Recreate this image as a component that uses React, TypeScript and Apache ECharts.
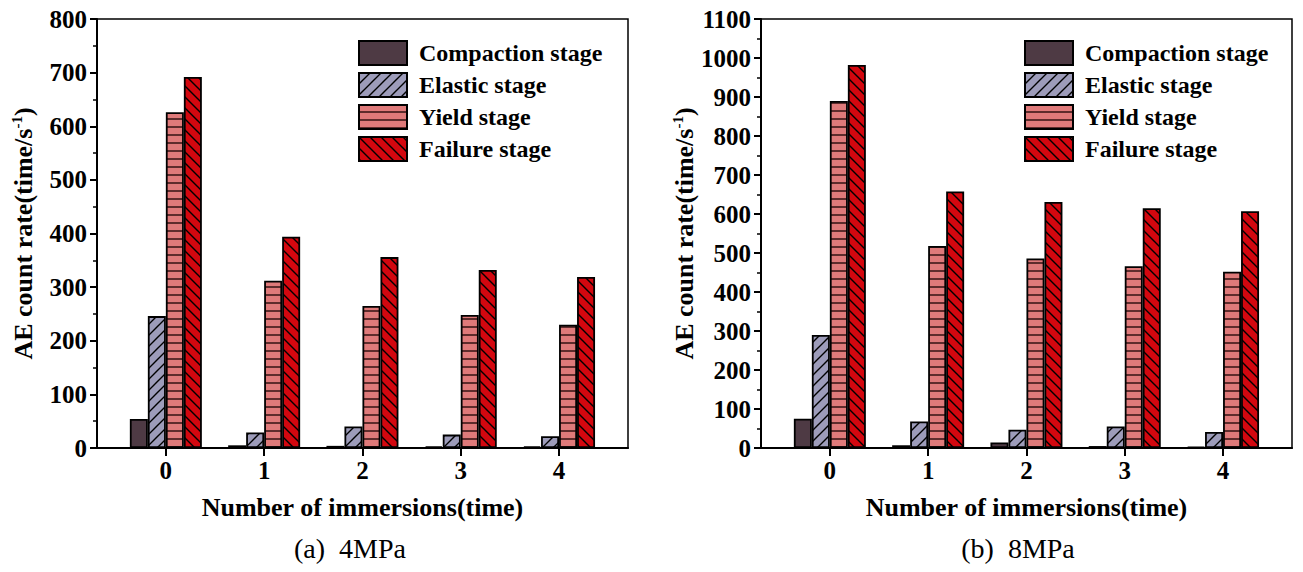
import React, { useEffect, useRef } from "react";
import * as echarts from "echarts";

const categories = ["0", "1", "2", "3", "4"];
const stageNames = ["Compaction stage", "Elastic stage", "Yield stage", "Failure stage"];

// 4 MPa panel
const compaction4 = [54, 5, 4, 3, 3];
const elastic4 = [246, 29, 40, 25, 22];
const yield4 = [626, 312, 265, 248, 230];
const failure4 = [692, 394, 356, 332, 319];

// 8 MPa panel
const compaction8 = [75, 7, 14, 5, 3];
const elastic8 = [290, 68, 47, 55, 41];
const yield8 = [890, 518, 486, 466, 452];
const failure8 = [982, 658, 631, 615, 607];

const FONT = "'Liberation Serif', 'Times New Roman', serif";

function makePattern(kind: string): any {
  const P = kind === "h" ? 8 : 11;
  const c = document.createElement("canvas");
  c.width = P;
  c.height = P;
  const ctx = c.getContext("2d")!;
  if (kind === "h") {
    ctx.fillStyle = "#df7a7a";
    ctx.fillRect(0, 0, P, P);
    ctx.fillStyle = "#5e2c2c";
    ctx.fillRect(0, P - 2, P, 2);
  } else {
    ctx.fillStyle = kind === "f" ? "#d3070f" : "#9d9cba";
    ctx.fillRect(0, 0, P, P);
    ctx.strokeStyle = "#000";
    ctx.lineWidth = 1.4;
    ctx.beginPath();
    if (kind === "f") {
      ctx.moveTo(-2, -2); ctx.lineTo(P + 2, P + 2);
      ctx.moveTo(-2 - P, -2); ctx.lineTo(2, P + 2);
      ctx.moveTo(P - 2, -2); ctx.lineTo(2 * P + 2, P + 2);
    } else {
      ctx.moveTo(-2, P + 2); ctx.lineTo(P + 2, -2);
      ctx.moveTo(-2 - P, P + 2); ctx.lineTo(2, -2);
      ctx.moveTo(P - 2, P + 2); ctx.lineTo(2 * P + 2, -2);
    }
    ctx.stroke();
  }
  return { image: c, repeat: "repeat" };
}

export default function App() {
  const ref = useRef<HTMLDivElement>(null);
  useEffect(() => {
    if (!ref.current) return;
    const chart = echarts.init(ref.current, null, { renderer: "svg" });
    const fills = ["#4e3a44", makePattern("e"), makePattern("h"), makePattern("f")];

    const panels = [
      { left: 97, barLeft: 116.7, max: 800, data: [compaction4, elastic4, yield4, failure4], legendLeft: 358 },
      { left: 761, barLeft: 780.7, max: 1100, data: [compaction8, elastic8, yield8, failure8], legendLeft: 1024 },
    ];
    const top = 19;
    const height = 429;
    const frameWidth = 531;
    const barWidthArea = 491.5;

    const grid: any[] = [];
    const xAxis: any[] = [];
    const yAxis: any[] = [];
    const series: any[] = [];
    const legend: any[] = [];

    const axisText = { color: "#000", fontFamily: FONT, fontWeight: "bold", fontSize: 25 };

    panels.forEach((p) => {
      const g0 = grid.length;
      grid.push({ left: p.left, top, width: frameWidth, height, show: true, borderColor: "#000", borderWidth: 1.5, backgroundColor: "transparent" });
      grid.push({ left: p.barLeft, top, width: barWidthArea, height });
      xAxis.push({
        type: "value", gridIndex: g0, min: 0, max: 1,
        axisLine: { show: true, lineStyle: { color: "#000", width: 2 } },
        axisTick: { show: false }, axisLabel: { show: false }, splitLine: { show: false },
        name: "Number of immersions(time)", nameLocation: "middle", nameGap: 46,
        nameTextStyle: { color: "#000", fontFamily: FONT, fontWeight: "bold", fontSize: 26 },
      });
      xAxis.push({
        type: "category", gridIndex: g0 + 1, data: categories,
        axisLine: { show: false },
        axisTick: { show: true, alignWithLabel: true, length: 8, lineStyle: { color: "#000", width: 2 } },
        axisLabel: { ...axisText, margin: 10 },
        splitLine: { show: false },
      });
      yAxis.push({
        type: "value", gridIndex: g0, min: 0, max: p.max, interval: 100,
        axisLine: { show: true, lineStyle: { color: "#000", width: 2 } },
        axisTick: { show: true, length: 7, lineStyle: { color: "#000", width: 2 } },
        minorTick: { show: true, splitNumber: 2, length: 4, lineStyle: { color: "#000", width: 1.5 } },
        axisLabel: { ...axisText, margin: 10, formatter: (v: number) => String(v) },
        splitLine: { show: false },
        name: "{a|AE count rate(time/s}{b|-1}{a|)}",
        nameLocation: "middle", nameGap: 60, nameRotate: 90,
        nameTextStyle: {
          color: "#000", fontFamily: FONT, fontWeight: "bold", fontSize: 26,
          rich: {
            a: { color: "#000", fontFamily: FONT, fontWeight: "bold", fontSize: 26, lineHeight: 28 },
            b: { color: "#000", fontFamily: FONT, fontWeight: "bold", fontSize: 15, verticalAlign: "top", lineHeight: 28 },
          },
        },
      });
      yAxis.push({ type: "value", gridIndex: g0 + 1, min: 0, max: p.max, show: false });

      p.data.forEach((vals, k) => {
        series.push({
          type: "bar", name: stageNames[k], xAxisIndex: g0 + 1, yAxisIndex: g0 + 1,
          data: vals, barWidth: 18, barGap: "0%",
          itemStyle: { color: fills[k], borderColor: "#000", borderWidth: 1.8 },
          emphasis: { disabled: true },
        });
      });

      legend.push({
        data: stageNames, orient: "vertical", left: p.legendLeft, top: 40,
        itemWidth: 48, itemHeight: 24, itemGap: 6, padding: 0, icon: "rect",
        selectedMode: false,
        textStyle: { color: "#000", fontFamily: FONT, fontWeight: "bold", fontSize: 24, padding: [0, 0, 0, 7] },
      });
    });

    chart.setOption({
      animation: false,
      backgroundColor: "#fff",
      grid, xAxis, yAxis, series, legend,
      graphic: [
        { type: "text", x: 350, y: 548, style: { text: "(a)  4MPa", fill: "#000", font: `28px ${FONT}`, align: "center", verticalAlign: "middle" } },
        { type: "text", x: 1018, y: 548, style: { text: "(b)  8MPa", fill: "#000", font: `28px ${FONT}`, align: "center", verticalAlign: "middle" } },
      ],
    });
    return () => chart.dispose();
  }, []);
  return <div ref={ref} style={{ position: "fixed", left: 0, top: 0, width: 1303, height: 572 }} />;
}
